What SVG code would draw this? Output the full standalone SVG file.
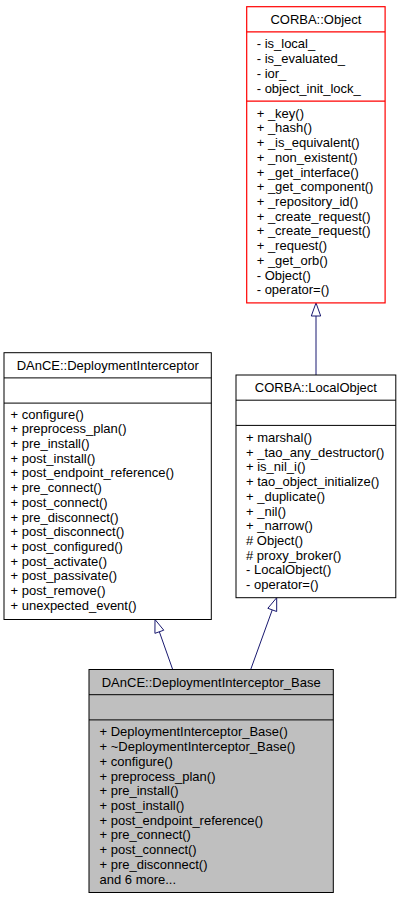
<svg xmlns="http://www.w3.org/2000/svg" width="401" height="899" viewBox="0 0 401 899">
<style>
text{font-family:"Liberation Sans",Arial,sans-serif;font-size:13px;fill:#000}
.t{text-anchor:middle}
.box{fill:#fff;stroke:#000;stroke-width:1}
.red{fill:#fff;stroke:#ff0000;stroke-width:1.2}
.cur{fill:#bfbfbf;stroke:#000;stroke-width:1}
.sep{stroke:#000;stroke-width:1}
.sepr{stroke:#ff0000;stroke-width:1.2}
.edge{stroke:#191970;stroke-width:1;fill:none}
.head{fill:#fff;stroke:#191970;stroke-width:1}
</style>
<rect width="401" height="899" fill="#fff"/>
<g id="connectors">
<line class="edge" x1="316" y1="375" x2="316" y2="316"/>
<polygon class="head" points="316,302.9 311.3,316 320.7,316"/>
<line class="edge" x1="172.7" y1="669.5" x2="159.34" y2="631.76"/>
<polygon class="head" points="155,619.5 163.77,630.19 154.91,633.33"/>
<line class="edge" x1="250.7" y1="669.5" x2="272.26" y2="609.9"/>
<polygon class="head" points="276.7,597.7 276.68,611.5 267.84,608.3"/>
</g>
<g id="corba_object">
<rect class="red" x="246.7" y="6.7" width="138.4" height="296.2"/>
<line class="sepr" x1="246.7" y1="31.9" x2="385.1" y2="31.9"/>
<line class="sepr" x1="246.7" y1="101.2" x2="385.1" y2="101.2"/>
<text class="t" x="315.9" y="23.9">CORBA::Object</text>
<text x="256.7" y="48.4">- is_local_</text>
<text x="256.7" y="63.1">- is_evaluated_</text>
<text x="256.7" y="77.8">- ior_</text>
<text x="256.7" y="92.5">- object_init_lock_</text>
<text x="256.7" y="117.7">+ _key()</text>
<text x="256.7" y="132.4">+ _hash()</text>
<text x="256.7" y="147.1">+ _is_equivalent()</text>
<text x="256.7" y="161.8">+ _non_existent()</text>
<text x="256.7" y="176.5">+ _get_interface()</text>
<text x="256.7" y="191.3">+ _get_component()</text>
<text x="256.7" y="206.0">+ _repository_id()</text>
<text x="256.7" y="220.7">+ _create_request()</text>
<text x="256.7" y="235.4">+ _create_request()</text>
<text x="256.7" y="250.1">+ _request()</text>
<text x="256.7" y="264.8">+ _get_orb()</text>
<text x="256.7" y="279.5">- Object()</text>
<text x="256.7" y="294.2">- operator=()</text>
</g>
<g id="deployment_interceptor">
<rect class="box" x="4" y="352.7" width="207.3" height="266.8"/>
<line class="sep" x1="4" y1="377.9" x2="211.3" y2="377.9"/>
<line class="sep" x1="4" y1="403.1" x2="211.3" y2="403.1"/>
<text class="t" x="107.7" y="369.9">DAnCE::DeploymentInterceptor</text>
<text x="10.5" y="418.6">+ configure()</text>
<text x="10.5" y="433.3">+ preprocess_plan()</text>
<text x="10.5" y="448.0">+ pre_install()</text>
<text x="10.5" y="462.7">+ post_install()</text>
<text x="10.5" y="477.4">+ post_endpoint_reference()</text>
<text x="10.5" y="492.2">+ pre_connect()</text>
<text x="10.5" y="506.9">+ post_connect()</text>
<text x="10.5" y="521.6">+ pre_disconnect()</text>
<text x="10.5" y="536.3">+ post_disconnect()</text>
<text x="10.5" y="551.0">+ post_configured()</text>
<text x="10.5" y="565.7">+ post_activate()</text>
<text x="10.5" y="580.4">+ post_passivate()</text>
<text x="10.5" y="595.1">+ post_remove()</text>
<text x="10.5" y="609.8">+ unexpected_event()</text>
</g>
<g id="local_object">
<rect class="box" x="236" y="375" width="159.8" height="222.7"/>
<line class="sep" x1="236" y1="400.2" x2="395.8" y2="400.2"/>
<line class="sep" x1="236" y1="425.4" x2="395.8" y2="425.4"/>
<text class="t" x="315.9" y="392.2">CORBA::LocalObject</text>
<text x="246" y="441.9">+ marshal()</text>
<text x="246" y="456.6">+ _tao_any_destructor()</text>
<text x="246" y="471.3">+ is_nil_i()</text>
<text x="246" y="486.0">+ tao_object_initialize()</text>
<text x="246" y="500.7">+ _duplicate()</text>
<text x="246" y="515.5">+ _nil()</text>
<text x="246" y="530.2">+ _narrow()</text>
<text x="246" y="544.9"># Object()</text>
<text x="246" y="559.6"># proxy_broker()</text>
<text x="246" y="574.3">- LocalObject()</text>
<text x="246" y="589.0">- operator=()</text>
</g>
<g id="deployment_interceptor_base">
<rect class="cur" x="89" y="669.5" width="244.3" height="223"/>
<line class="sep" x1="89" y1="694.7" x2="333.3" y2="694.7"/>
<line class="sep" x1="89" y1="719.9" x2="333.3" y2="719.9"/>
<text class="t" x="211.2" y="686.7">DAnCE::DeploymentInterceptor_Base</text>
<text x="99.5" y="736.4">+ DeploymentInterceptor_Base()</text>
<text x="99.5" y="751.1">+ ~DeploymentInterceptor_Base()</text>
<text x="99.5" y="765.8">+ configure()</text>
<text x="99.5" y="780.5">+ preprocess_plan()</text>
<text x="99.5" y="795.2">+ pre_install()</text>
<text x="99.5" y="810.0">+ post_install()</text>
<text x="99.5" y="824.7">+ post_endpoint_reference()</text>
<text x="99.5" y="839.4">+ pre_connect()</text>
<text x="99.5" y="854.1">+ post_connect()</text>
<text x="99.5" y="868.8">+ pre_disconnect()</text>
<text x="99.5" y="883.5">and 6 more...</text>
</g>
</svg>
